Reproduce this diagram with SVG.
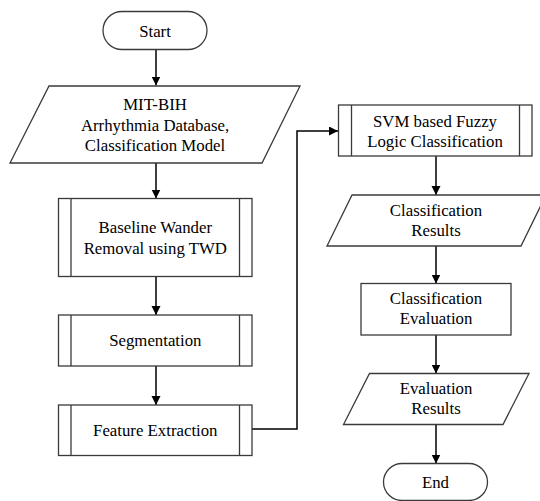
<svg xmlns="http://www.w3.org/2000/svg" width="540" height="501" viewBox="0 0 540 501">
<style>
.s{fill:#fff;stroke:#3a3a3a;stroke-width:1.3}
.i{fill:none;stroke:#3a3a3a;stroke-width:1.3}
.c{fill:none;stroke:#000;stroke-width:1.5}
.t{font-family:'Liberation Serif','Times New Roman',Times,serif;font-size:16.8px;fill:#000;text-anchor:middle}
</style>
<defs>
<marker id="ah" markerWidth="10" markerHeight="10" refX="9" refY="4.5" orient="auto" markerUnits="userSpaceOnUse">
<path d="M0,0 L9,4.5 L0,9 Z" fill="#000"/>
</marker>
</defs>
<rect width="540" height="501" fill="#fff"/>
<g id="connectors">
<line class="c" x1="156" y1="49.5" x2="156" y2="85.5" marker-end="url(#ah)"/>
<line class="c" x1="156" y1="163" x2="156" y2="198.5" marker-end="url(#ah)"/>
<line class="c" x1="156" y1="276.5" x2="156" y2="315" marker-end="url(#ah)"/>
<line class="c" x1="156" y1="366" x2="156" y2="405" marker-end="url(#ah)"/>
<polyline class="c" points="252,429 297,429 297,131 338,131" marker-end="url(#ah)"/>
<line class="c" x1="436" y1="156" x2="436" y2="195" marker-end="url(#ah)"/>
<line class="c" x1="436" y1="246" x2="436" y2="283.5" marker-end="url(#ah)"/>
<line class="c" x1="436" y1="335" x2="436" y2="373.5" marker-end="url(#ah)"/>
<line class="c" x1="436" y1="424.5" x2="436" y2="463.5" marker-end="url(#ah)"/>
</g>
<g id="start">
<rect class="s" x="103" y="11.5" width="104" height="38" rx="19" ry="19"/>
<text class="t" font-family="Liberation Serif, serif" x="155" y="37">Start</text>
</g>
<g id="mitbih">
<polygon class="s" points="49,86 300,86 262,163 10,163"/>
<text class="t" font-family="Liberation Serif, serif" x="155" y="110">MIT-BIH</text>
<text class="t" font-family="Liberation Serif, serif" x="155" y="130.5">Arrhythmia Database,</text>
<text class="t" font-family="Liberation Serif, serif" x="155" y="150.8">Classification Model</text>
</g>
<g id="baseline">
<rect class="s" x="58.5" y="198.5" width="193.5" height="78"/>
<line class="i" x1="71" y1="198.5" x2="71" y2="276.5"/>
<line class="i" x1="239.5" y1="198.5" x2="239.5" y2="276.5"/>
<text class="t" font-family="Liberation Serif, serif" x="155.3" y="233.3">Baseline Wander</text>
<text class="t" font-family="Liberation Serif, serif" x="155.3" y="253.5">Removal using TWD</text>
</g>
<g id="segmentation">
<rect class="s" x="58.5" y="315" width="193.5" height="51"/>
<line class="i" x1="71" y1="315" x2="71" y2="366"/>
<line class="i" x1="239.5" y1="315" x2="239.5" y2="366"/>
<text class="t" font-family="Liberation Serif, serif" x="155.3" y="346">Segmentation</text>
</g>
<g id="feature">
<rect class="s" x="58.5" y="405" width="193.5" height="50.5"/>
<line class="i" x1="71" y1="405" x2="71" y2="455.5"/>
<line class="i" x1="239.5" y1="405" x2="239.5" y2="455.5"/>
<text class="t" font-family="Liberation Serif, serif" x="155.3" y="435.5">Feature Extraction</text>
</g>
<g id="svm">
<rect class="s" x="338.5" y="105" width="193.5" height="51"/>
<line class="i" x1="351.5" y1="105" x2="351.5" y2="156"/>
<line class="i" x1="519.5" y1="105" x2="519.5" y2="156"/>
<text class="t" font-family="Liberation Serif, serif" x="435" y="126.5">SVM based Fuzzy</text>
<text class="t" font-family="Liberation Serif, serif" x="435" y="146.5">Logic Classification</text>
</g>
<g id="classresults">
<polygon class="s" points="352,195 546,195 521,246 327,246"/>
<text class="t" font-family="Liberation Serif, serif" x="436" y="215.8">Classification</text>
<text class="t" font-family="Liberation Serif, serif" x="436" y="235.5">Results</text>
</g>
<g id="classeval">
<rect class="s" x="361" y="283.5" width="150" height="51.5"/>
<text class="t" font-family="Liberation Serif, serif" x="436" y="303.5">Classification</text>
<text class="t" font-family="Liberation Serif, serif" x="436" y="324">Evaluation</text>
</g>
<g id="evalresults">
<polygon class="s" points="369.5,373.5 529,373.5 503,424.5 343.5,424.5"/>
<text class="t" font-family="Liberation Serif, serif" x="436" y="394">Evaluation</text>
<text class="t" font-family="Liberation Serif, serif" x="436" y="414">Results</text>
</g>
<g id="end">
<rect class="s" x="383.5" y="463.5" width="104" height="37" rx="18.5" ry="18.5"/>
<text class="t" font-family="Liberation Serif, serif" x="435.5" y="488">End</text>
</g>
</svg>
